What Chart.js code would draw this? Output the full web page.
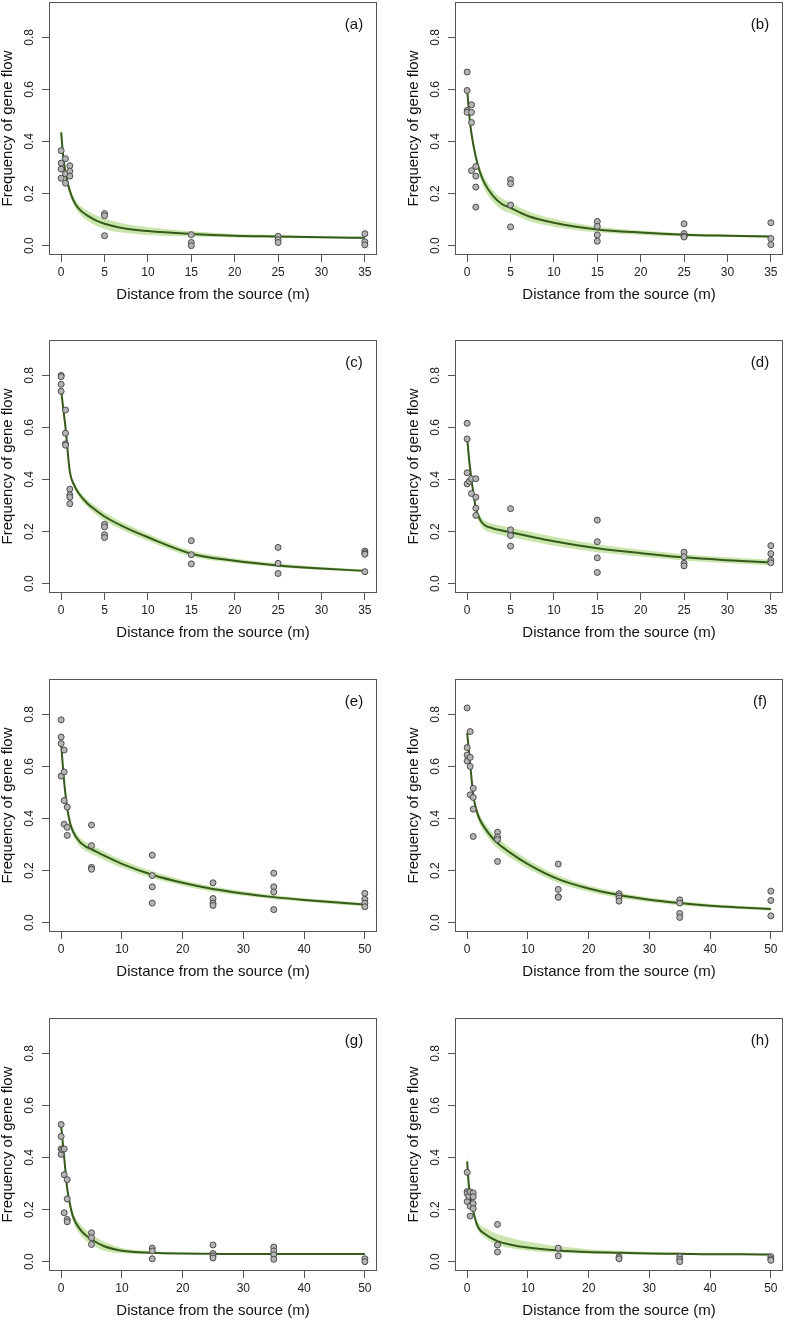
<!DOCTYPE html>
<html>
<head>
<meta charset="utf-8">
<script src="https://cdn.jsdelivr.net/npm/chart.js@4.4.1/dist/chart.umd.min.js"></script>
<style>
  body { margin: 0; background: #fff; overflow: hidden; }
  #wrap { position: relative; width: 787px; height: 1320px; overflow: hidden; }
  #wrap canvas { position: absolute; }
</style>
</head>
<body>
<div id="wrap"></div>
<script>
// shared axis values
const fitX35 = [0, 0.25, 0.5, 1, 1.5, 2, 3, 4, 5, 7, 10, 15, 20, 25, 30, 35];
const fitX50 = [0, 0.25, 0.5, 1, 1.5, 2, 3, 4, 5, 7, 10, 15, 20, 25, 30, 35, 40, 45, 50];
const xTicks35 = [0, 5, 10, 15, 20, 25, 30, 35];
const xTicks50 = [0, 10, 20, 30, 40, 50];
const yTicks = [0, 0.2, 0.4, 0.6, 0.8];

// (a)
const ptsXa = [0, 0, 0, 0, 0.5, 0.5, 0.5, 1, 1, 1, 5, 5, 5, 15, 15, 15, 25, 25, 25, 35, 35, 35];
const ptsYa = [0.365, 0.317, 0.294, 0.259, 0.334, 0.276, 0.240, 0.307, 0.286, 0.267, 0.123, 0.115, 0.038, 0.042, 0.012, 0.0, 0.036, 0.023, 0.012, 0.046, 0.015, 0.003];
const fitA = [0.435, 0.34, 0.28, 0.21, 0.168, 0.143, 0.116, 0.097, 0.084, 0.068, 0.056, 0.045, 0.038, 0.035, 0.032, 0.030];
const loA = [0.405, 0.315, 0.26, 0.195, 0.152, 0.126, 0.097, 0.077, 0.064, 0.050, 0.041, 0.035, 0.031, 0.029, 0.028, 0.026];
const hiA = [0.465, 0.365, 0.30, 0.225, 0.184, 0.160, 0.135, 0.117, 0.104, 0.086, 0.071, 0.055, 0.045, 0.041, 0.036, 0.034];

// (b)
const ptsXb = [0, 0, 0, 0, 0.5, 0.5, 0.5, 0.5, 1, 1, 1, 1, 5, 5, 5, 5, 15, 15, 15, 15, 25, 25, 25, 25, 35, 35, 35];
const ptsYb = [0.667, 0.596, 0.519, 0.512, 0.541, 0.512, 0.473, 0.288, 0.304, 0.267, 0.225, 0.148, 0.254, 0.238, 0.156, 0.072, 0.093, 0.074, 0.041, 0.017, 0.084, 0.046, 0.036, 0.033, 0.088, 0.027, 0.004];
const fitB = [0.60, 0.50, 0.43, 0.34, 0.28, 0.24, 0.19, 0.16, 0.145, 0.114, 0.088, 0.062, 0.050, 0.042, 0.038, 0.035];
const loB = [0.57, 0.475, 0.41, 0.322, 0.26, 0.218, 0.168, 0.138, 0.124, 0.096, 0.073, 0.051, 0.042, 0.036, 0.033, 0.030];
const hiB = [0.63, 0.525, 0.45, 0.358, 0.30, 0.262, 0.212, 0.182, 0.166, 0.132, 0.103, 0.073, 0.058, 0.048, 0.043, 0.040];

// (c)
const ptsXc = [0, 0, 0, 0, 0.5, 0.5, 0.5, 0.5, 1, 1, 1, 1, 5, 5, 5, 5, 15, 15, 15, 25, 25, 25, 35, 35, 35, 35];
const ptsYc = [0.80, 0.795, 0.766, 0.739, 0.667, 0.578, 0.537, 0.532, 0.363, 0.341, 0.332, 0.307, 0.228, 0.218, 0.188, 0.177, 0.165, 0.111, 0.076, 0.139, 0.078, 0.039, 0.125, 0.118, 0.113, 0.046];
const fitC = [0.745, 0.67, 0.60, 0.43, 0.378, 0.348, 0.309, 0.282, 0.258, 0.222, 0.178, 0.115, 0.088, 0.070, 0.058, 0.049];
const loC = [0.725, 0.65, 0.582, 0.418, 0.366, 0.335, 0.295, 0.267, 0.243, 0.207, 0.164, 0.104, 0.079, 0.063, 0.052, 0.044];
const hiC = [0.765, 0.69, 0.618, 0.442, 0.390, 0.361, 0.323, 0.297, 0.273, 0.237, 0.192, 0.126, 0.097, 0.077, 0.064, 0.054];

// (d)
const ptsXd = [0, 0, 0, 0, 0.25, 0.5, 0.5, 1, 1, 1, 1, 5, 5, 5, 5, 15, 15, 15, 15, 25, 25, 25, 25, 35, 35, 35, 35];
const ptsYd = [0.616, 0.556, 0.426, 0.383, 0.393, 0.403, 0.346, 0.403, 0.332, 0.290, 0.262, 0.288, 0.207, 0.185, 0.144, 0.244, 0.161, 0.099, 0.043, 0.121, 0.103, 0.078, 0.068, 0.146, 0.115, 0.090, 0.080];
const fitD = [0.56, 0.47, 0.40, 0.29, 0.245, 0.225, 0.212, 0.204, 0.197, 0.183, 0.163, 0.136, 0.117, 0.101, 0.090, 0.081];
const loD = [0.53, 0.445, 0.38, 0.275, 0.229, 0.207, 0.194, 0.186, 0.179, 0.165, 0.146, 0.121, 0.104, 0.089, 0.079, 0.070];
const hiD = [0.59, 0.495, 0.42, 0.305, 0.261, 0.243, 0.230, 0.222, 0.215, 0.201, 0.180, 0.151, 0.130, 0.113, 0.101, 0.092];

// (e)
const ptsXe = [0, 0, 0, 0, 0.5, 0.5, 0.5, 0.5, 1, 1, 1, 5, 5, 5, 5, 15, 15, 15, 15, 25, 25, 25, 25, 35, 35, 35, 35, 50, 50, 50, 50];
const ptsYe = [0.779, 0.713, 0.688, 0.563, 0.663, 0.579, 0.469, 0.378, 0.444, 0.366, 0.335, 0.375, 0.296, 0.2125, 0.205, 0.259, 0.181, 0.1375, 0.075, 0.153, 0.0925, 0.075, 0.066, 0.19, 0.1375, 0.1175, 0.05, 0.1125, 0.09, 0.075, 0.061];
const fitE = [0.69, 0.61, 0.54, 0.44, 0.38, 0.348, 0.312, 0.293, 0.282, 0.258, 0.226, 0.184, 0.153, 0.129, 0.112, 0.098, 0.087, 0.078, 0.069];
const loE = [0.66, 0.585, 0.52, 0.425, 0.365, 0.332, 0.295, 0.276, 0.265, 0.242, 0.211, 0.171, 0.142, 0.119, 0.103, 0.090, 0.080, 0.071, 0.063];
const hiE = [0.72, 0.635, 0.56, 0.455, 0.395, 0.364, 0.329, 0.310, 0.299, 0.274, 0.241, 0.197, 0.164, 0.139, 0.121, 0.106, 0.094, 0.085, 0.075];

// (f)
const ptsXf = [0, 0, 0, 0, 0.5, 0.5, 0.5, 0.5, 1, 1, 1, 1, 5, 5, 5, 5, 15, 15, 15, 15, 25, 25, 25, 25, 35, 35, 35, 35, 50, 50, 50];
const ptsYf = [0.825, 0.6725, 0.644, 0.621, 0.734, 0.635, 0.60, 0.491, 0.516, 0.481, 0.436, 0.331, 0.3475, 0.329, 0.319, 0.235, 0.225, 0.1275, 0.099, 0.0975, 0.111, 0.1025, 0.094, 0.0825, 0.0875, 0.075, 0.035, 0.02, 0.121, 0.085, 0.026];
const fitF = [0.73, 0.67, 0.61, 0.49, 0.435, 0.40, 0.36, 0.33, 0.306, 0.27, 0.225, 0.167, 0.131, 0.106, 0.088, 0.075, 0.065, 0.058, 0.052];
const loF = [0.705, 0.65, 0.592, 0.475, 0.419, 0.382, 0.341, 0.31, 0.286, 0.251, 0.208, 0.153, 0.119, 0.096, 0.079, 0.067, 0.058, 0.052, 0.046];
const hiF = [0.755, 0.69, 0.628, 0.505, 0.451, 0.418, 0.379, 0.35, 0.326, 0.289, 0.242, 0.181, 0.143, 0.116, 0.097, 0.083, 0.072, 0.064, 0.058];

// (g)
const ptsXg = [0, 0, 0, 0, 0.25, 0.5, 0.5, 0.5, 1, 1, 1, 1, 5, 5, 5, 15, 15, 15, 25, 25, 25, 25, 35, 35, 35, 35, 50, 50];
const ptsYg = [0.527, 0.481, 0.433, 0.412, 0.43, 0.433, 0.334, 0.1875, 0.315, 0.241, 0.162, 0.153, 0.111, 0.092, 0.066, 0.052, 0.041, 0.011, 0.064, 0.031, 0.022, 0.014, 0.056, 0.041, 0.026, 0.009, 0.011, 0.0];
const fitG = [0.52, 0.46, 0.40, 0.28, 0.215, 0.17, 0.128, 0.102, 0.085, 0.06, 0.042, 0.034, 0.031, 0.030, 0.029, 0.029, 0.029, 0.029, 0.029];
const loG = [0.50, 0.44, 0.382, 0.265, 0.199, 0.152, 0.108, 0.082, 0.065, 0.043, 0.032, 0.029, 0.028, 0.028, 0.027, 0.027, 0.027, 0.027, 0.027];
const hiG = [0.54, 0.48, 0.418, 0.295, 0.231, 0.188, 0.148, 0.122, 0.105, 0.077, 0.052, 0.039, 0.034, 0.032, 0.031, 0.031, 0.031, 0.031, 0.031];

// (h)
const ptsXh = [0, 0, 0, 0, 0.25, 0.5, 0.5, 0.5, 1, 1, 1, 1, 5, 5, 5, 15, 15, 25, 25, 35, 35, 35, 50, 50, 50];
const ptsYh = [0.343, 0.269, 0.262, 0.231, 0.251, 0.268, 0.213, 0.175, 0.264, 0.249, 0.223, 0.204, 0.143, 0.064, 0.037, 0.052, 0.022, 0.018, 0.011, 0.019, 0.009, 0.0, 0.019, 0.011, 0.005];
const fitH = [0.385, 0.30, 0.25, 0.195, 0.15, 0.125, 0.105, 0.09, 0.079, 0.066, 0.054, 0.043, 0.037, 0.034, 0.031, 0.030, 0.028, 0.028, 0.027];
const loH = [0.35, 0.275, 0.23, 0.18, 0.137, 0.112, 0.091, 0.075, 0.064, 0.052, 0.042, 0.034, 0.030, 0.028, 0.027, 0.026, 0.025, 0.025, 0.024];
const hiH = [0.42, 0.325, 0.27, 0.21, 0.167, 0.145, 0.129, 0.116, 0.106, 0.092, 0.076, 0.059, 0.048, 0.042, 0.037, 0.035, 0.032, 0.032, 0.031];

Chart.defaults.font.family = '"Liberation Sans", Arial, sans-serif';
Chart.defaults.color = '#222';

const lineColor = '#355a1c';
const bandColor = 'rgba(150, 205, 90, 0.5)';
const pointFill = '#b4b4b4';
const pointEdge = '#4a4a4a';

// where each plot box sits on the page
const panels = [
  { tag: '(a)', left: 49, top: 2, xMax: 35, xTicks: xTicks35, fitX: fitX35, px: ptsXa, py: ptsYa, fit: fitA, lo: loA, hi: hiA },
  { tag: '(b)', left: 455, top: 2, xMax: 35, xTicks: xTicks35, fitX: fitX35, px: ptsXb, py: ptsYb, fit: fitB, lo: loB, hi: hiB },
  { tag: '(c)', left: 49, top: 340, xMax: 35, xTicks: xTicks35, fitX: fitX35, px: ptsXc, py: ptsYc, fit: fitC, lo: loC, hi: hiC },
  { tag: '(d)', left: 455, top: 340, xMax: 35, xTicks: xTicks35, fitX: fitX35, px: ptsXd, py: ptsYd, fit: fitD, lo: loD, hi: hiD },
  { tag: '(e)', left: 49, top: 679, xMax: 50, xTicks: xTicks50, fitX: fitX50, px: ptsXe, py: ptsYe, fit: fitE, lo: loE, hi: hiE },
  { tag: '(f)', left: 455, top: 679, xMax: 50, xTicks: xTicks50, fitX: fitX50, px: ptsXf, py: ptsYf, fit: fitF, lo: loF, hi: hiF },
  { tag: '(g)', left: 49, top: 1018, xMax: 50, xTicks: xTicks50, fitX: fitX50, px: ptsXg, py: ptsYg, fit: fitG, lo: loG, hi: hiG },
  { tag: '(h)', left: 455, top: 1018, xMax: 50, xTicks: xTicks50, fitX: fitX50, px: ptsXh, py: ptsYh, fit: fitH, lo: loH, hi: hiH }
];

function xy(xs, ys) {
  return xs.map((x, i) => ({ x: x, y: ys[i] }));
}

// R-style box around the plot region plus the panel letter
const framePlugin = {
  id: 'frame',
  afterDatasetsDraw(chart, args, opts) {
    const a = chart.chartArea;
    const ctx = chart.ctx;
    ctx.save();
    ctx.strokeStyle = '#555';
    ctx.lineWidth = 1;
    ctx.strokeRect(Math.round(a.left) + 0.5, Math.round(a.top) + 0.5,
      Math.round(a.right - a.left) - 1, Math.round(a.bottom - a.top) - 1);
    ctx.fillStyle = '#111';
    ctx.font = '15px "Liberation Sans", Arial, sans-serif';
    ctx.textAlign = 'center';
    ctx.textBaseline = 'middle';
    ctx.fillText(opts.tag, a.right - 23, a.top + 23);
    ctx.restore();
  }
};

const wrap = document.getElementById('wrap');

function makePanel(p) {
  const cv = document.createElement('canvas');
  cv.width = 381;
  cv.height = 315;
  cv.style.left = (p.left - 49) + 'px';
  cv.style.top = (p.top - 12) + 'px';
  wrap.appendChild(cv);

  const tickGrid = { display: true, drawOnChartArea: false, drawTicks: true, tickLength: 7, color: '#555', lineWidth: 1 };

  new Chart(cv.getContext('2d'), {
    type: 'scatter',
    data: {
      datasets: [
        { type: 'line', data: xy(p.fitX, p.lo), borderColor: 'rgba(0,0,0,0)', borderWidth: 0, pointRadius: 0,
          fill: false, cubicInterpolationMode: 'monotone', order: 3 },
        { type: 'line', data: xy(p.fitX, p.hi), borderColor: 'rgba(0,0,0,0)', borderWidth: 0, pointRadius: 0,
          fill: '-1', backgroundColor: bandColor, cubicInterpolationMode: 'monotone', order: 2 },
        { type: 'line', data: xy(p.fitX, p.fit), borderColor: lineColor, borderWidth: 2, pointRadius: 0,
          fill: false, cubicInterpolationMode: 'monotone', order: 1 },
        { data: xy(p.px, p.py), pointRadius: 3, pointHoverRadius: 3, backgroundColor: pointFill,
          borderColor: pointEdge, borderWidth: 1, order: 0 }
      ]
    },
    options: {
      responsive: false,
      animation: false,
      devicePixelRatio: 1,
      events: [],
      layout: { padding: { top: 12, right: 2, left: 0, bottom: 0 } },
      plugins: {
        legend: { display: false },
        tooltip: { enabled: false },
        frame: { tag: p.tag }
      },
      scales: {
        x: {
          type: 'linear',
          position: 'bottom',
          min: -p.xMax * 0.04,
          max: p.xMax * 1.04,
          afterBuildTicks: s => { s.ticks = p.xTicks.map(v => ({ value: v })); },
          afterFit: s => { s.height = 50; },
          grid: tickGrid,
          border: { display: false },
          ticks: { autoSkip: false, maxRotation: 0, padding: 3.5, color: '#222', font: { size: 12 } },
          title: { display: true, text: 'Distance from the source (m)', color: '#111',
                   font: { size: 15, lineHeight: 1 }, padding: { top: 0, bottom: 3 } }
        },
        y: {
          type: 'linear',
          position: 'left',
          min: -0.036,
          max: 0.936,
          afterBuildTicks: s => { s.ticks = yTicks.map(v => ({ value: v })); },
          afterFit: s => { s.width = 49; },
          grid: tickGrid,
          border: { display: false },
          ticks: { minRotation: 90, maxRotation: 90, crossAlign: 'center', padding: 4, color: '#222',
                   font: { size: 12 }, callback: v => v.toFixed(1) },
          title: { display: true, text: 'Frequency of gene flow', color: '#111',
                   font: { size: 15, lineHeight: 1 }, padding: 0 }
        }
      }
    },
    plugins: [framePlugin]
  });
}

panels.forEach(makePanel);
</script>
</body>
</html>
